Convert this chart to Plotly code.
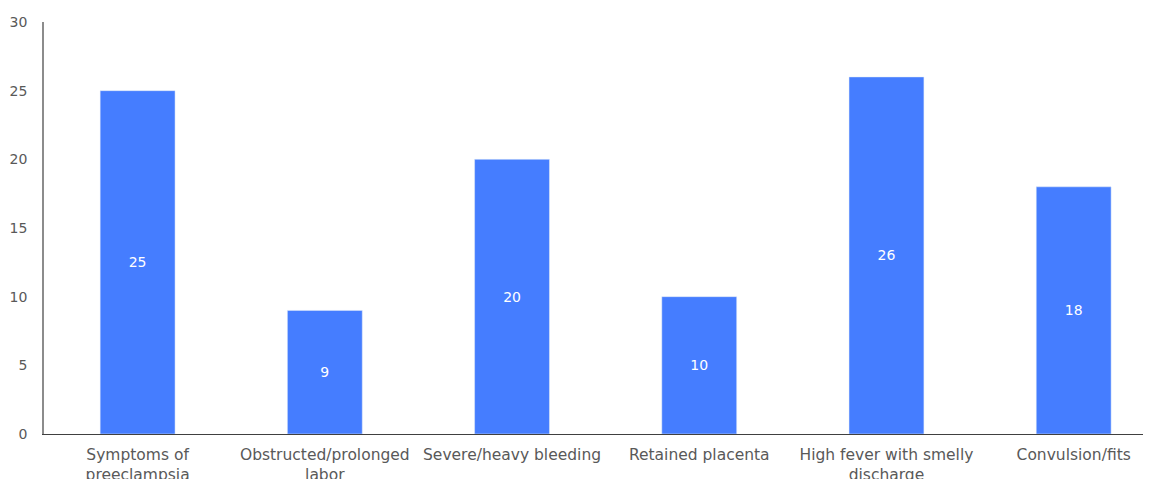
import plotly.graph_objects as go

categories = [
    "Symptoms of<br>preeclampsia",
    "Obstructed/prolonged<br>labor",
    "Severe/heavy bleeding",
    "Retained placenta",
    "High fever with smelly<br>discharge",
    "Convulsion/fits",
]
counts = [25, 9, 20, 10, 26, 18]
y_ticks = [0, 5, 10, 15, 20, 25, 30]

FONT = "'DejaVu Sans', sans-serif"

fig = go.Figure()
fig.add_trace(go.Bar(
    x=categories, y=counts,
    marker_color="#457dff",
    text=counts, textposition="inside", insidetextanchor="middle",
    textfont=dict(color="white", size=14, family=FONT),
    hoverinfo="skip",
))

# page body has an 8px margin, so the figure is shifted by it
fig.update_layout(
    width=1143, height=471,
    margin=dict(l=36, r=0, t=14, b=45),
    plot_bgcolor="white", paper_bgcolor="white",
    bargap=0.6, showlegend=False,
    font=dict(family=FONT, color="#595959", size=15),
)
# the original plot runs past the right edge of the window
fig.update_xaxes(
    range=[-0.5, 5.413], automargin=False,
    showline=True, linecolor="#404040", linewidth=1,
    showgrid=False, ticks="", ticklabelstandoff=6,
    tickfont=dict(size=15.5, color="#595959"), tickangle=0,
)
fig.update_yaxes(
    range=[0, 30], tickvals=y_ticks, showgrid=False, zeroline=False,
    automargin=False,
    showline=True, linecolor="#8c8c8c", linewidth=1.5,
    ticks="", ticklabelstandoff=12, tickfont=dict(size=14, color="#595959"),
)

fig.write_html("out.html")
